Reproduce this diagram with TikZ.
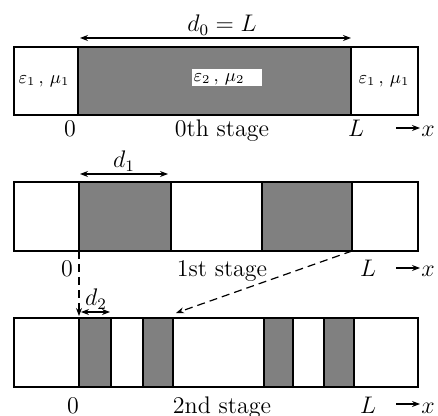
\documentclass[tikz,border=0pt]{standalone}
\usepackage{amsmath}
\usepackage{amssymb}
\usetikzlibrary{arrows.meta}

\begin{document}
\begin{tikzpicture}[x=0.5pt,y=-0.5pt,
    slab/.style={draw=black, line width=1pt, fill=black!50},
    bar/.style={draw=black, line width=1pt},
    dim/.style={{Stealth[length=4pt]}-{Stealth[length=4pt]}, line width=0.6pt},
    jump/.style={dash pattern=on 4pt off 2.5pt, -{Stealth[length=4pt]}, line width=0.6pt},
    lbl/.style={font=\large, anchor=base},
    eps/.style={font=\small}]
\useasboundingbox (0,0) rectangle (438,416);

% 0th stage
\draw[slab] (78,47) rectangle (351,115);
\draw[bar] (14,47) rectangle (418,115);
\fill[white] (192,69) rectangle (262,86);
\node[eps] (m2) at (219,79) {$\varepsilon_2\,,\,\mu_2$};
\node[eps] (m1l) at (44,81) {$\varepsilon_1\,,\,\mu_1$};
\node[eps] (m1r) at (384,81) {$\varepsilon_1\,,\,\mu_1$};
\coordinate (a0) at (80,38);
\coordinate (b0) at (351,38);
\draw[dim] (a0) -- (b0);
\node[lbl] (d0) at (222,32) {$d_0 = L$};
\node[lbl] (z0) at (70,137) {$0$};
\node[lbl] (s0) at (222,137) {0th stage};
\node[lbl] (l0) at (356,137) {$L$};
\coordinate (x0a) at (396,128);
\coordinate (x0b) at (420,128);
\draw[-{Stealth[length=4pt]}, line width=0.6pt] (x0a) -- (x0b);
\node[lbl] (x0) at (428,137) {$x$};

% 1st stage
\draw[slab] (79,182) rectangle (171,251);
\draw[slab] (262,182) rectangle (352,251);
\draw[bar] (14,182) rectangle (418,251);
\coordinate (a1) at (80,174);
\coordinate (b1) at (168,174);
\draw[dim] (a1) -- (b1);
\node[lbl] (d1) at (124,168) {$d_1$};
\node[lbl] (z1) at (67,277) {$0$};
\node[lbl] (s1) at (222,277) {1st stage};
\node[lbl] (l1) at (368,277) {$L$};
\coordinate (x1a) at (396,268);
\coordinate (x1b) at (420,268);
\draw[-{Stealth[length=4pt]}, line width=0.6pt] (x1a) -- (x1b);
\node[lbl] (x1) at (428,277) {$x$};
\coordinate (p1) at (79,251);
\coordinate (q1) at (352,251);

% 2nd stage
\foreach \u/\v in {79/111, 143/173, 264/293, 324/354}
  \draw[slab] (\u,318) rectangle (\v,387);
\draw[bar] (14,318) rectangle (418,387);
\coordinate (a2) at (81,312);
\coordinate (b2) at (110,312);
\draw[dim] (a2) -- (b2);
\node[lbl] (d2) at (96,306) {$d_2$};
\node[lbl] (z2) at (73,413) {$0$};
\node[lbl] (s2) at (222,413) {2nd stage};
\node[lbl] (l2) at (368,413) {$L$};
\coordinate (x2a) at (396,404);
\coordinate (x2b) at (420,404);
\draw[-{Stealth[length=4pt]}, line width=0.6pt] (x2a) -- (x2b);
\node[lbl] (x2) at (428,413) {$x$};
\coordinate (p2) at (79,316);
\coordinate (q2) at (176,313);

% zoom-in links
\draw[jump] (p1) -- (p2);
\draw[jump] (q1) -- (q2);
\end{tikzpicture}
\end{document}
